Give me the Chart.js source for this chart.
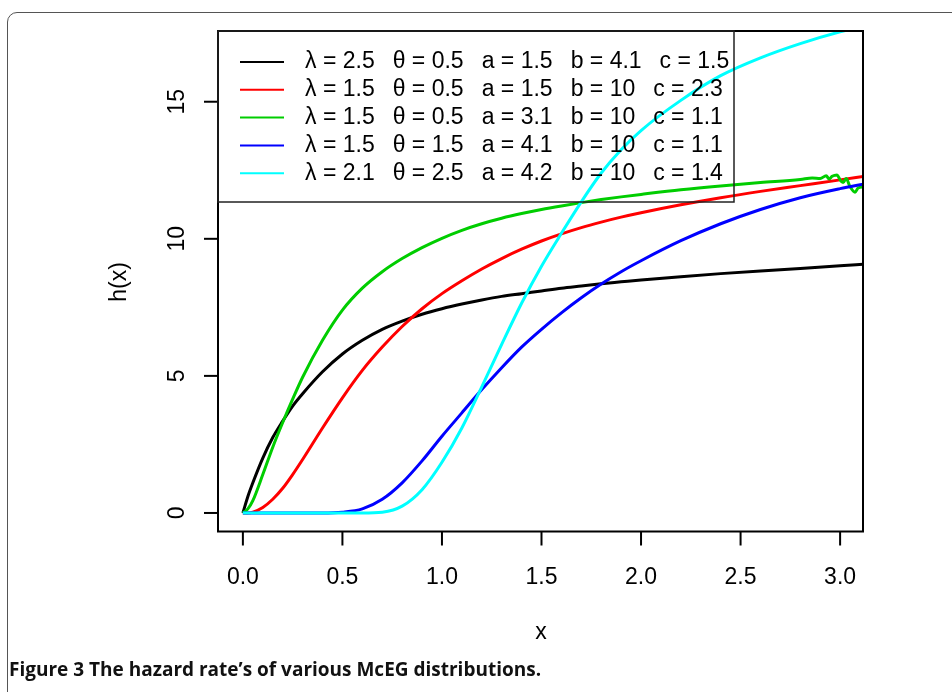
<!DOCTYPE html>
<html>
<head>
<meta charset="utf-8">
<script src="https://cdn.jsdelivr.net/npm/chart.js@4.4.0/dist/chart.umd.min.js"></script>
<style>
    body { margin: 0; background: #fff; overflow: hidden; }
    #wrap { position: relative; width: 952px; height: 692px; overflow: hidden; }
    #frame {
        position: absolute; left: 7px; top: 12px; width: 980px; height: 720px;
        border: 1px solid #555; border-radius: 10px; box-sizing: border-box;
    }
    #grafico { position: absolute; left: 0; top: 0; }
    #legenda-figura {
        position: absolute; left: 9px; top: 656px;
        font-family: 'Liberation Sans Narrow', 'Open Sans', sans-serif;
        font-weight: bold; font-size: 19px; color: #111;
    }
</style>
</head>
<body>
<div id="wrap">
    <div id="frame"></div>
    <canvas id="grafico" width="952" height="692"></canvas>
    <div id="legenda-figura">Figure 3 The hazard rate’s of various McEG distributions.</div>
</div>
<script>
// valores
const xs = [0, 0.025, 0.05, 0.1, 0.15, 0.2, 0.25, 0.3, 0.4, 0.5, 0.6, 0.7, 0.8, 0.9, 1.0,
    1.1, 1.2, 1.3, 1.4, 1.5, 1.6, 1.7, 1.8, 1.9, 2.0, 2.2, 2.4, 2.6, 2.8, 3.0, 3.12];

const hPreto = [0, 0.6, 1.1, 2.0, 2.75, 3.35, 3.9, 4.35, 5.15, 5.8, 6.3, 6.7, 7.0, 7.25, 7.45,
    7.62, 7.77, 7.9, 8.0, 8.1, 8.2, 8.28, 8.36, 8.43, 8.5, 8.62, 8.73, 8.83, 8.92, 9.02, 9.07];

const hVermelho = [0, 0, 0.03, 0.2, 0.5, 0.9, 1.4, 1.95, 3.1, 4.2, 5.2, 6.05, 6.8, 7.45, 8.0,
    8.47, 8.9, 9.28, 9.62, 9.92, 10.18, 10.41, 10.61, 10.79, 10.95, 11.24, 11.5, 11.73, 11.94, 12.15, 12.28];

const hAzul = [0, 0, 0, 0, 0, 0, 0, 0, 0, 0.03, 0.15, 0.5, 1.1, 1.9, 2.8,
    3.65, 4.5, 5.3, 6.05, 6.7, 7.3, 7.85, 8.35, 8.8, 9.2, 9.93, 10.55, 11.07, 11.5, 11.83, 12.0];

const hCiano = [0, 0, 0, 0, 0, 0, 0, 0, 0, 0, 0, 0.03, 0.25, 0.85, 1.85,
    3.1, 4.6, 6.15, 7.65, 9.0, 10.2, 11.35, 12.4, 13.25, 13.95, 15.05, 15.95, 16.6, 17.12, 17.55, 17.75];

// a curva verde tem um trecho ruidoso no final
const xsVerde = [0, 0.025, 0.05, 0.1, 0.15, 0.2, 0.25, 0.3, 0.4, 0.5, 0.6, 0.7, 0.8, 0.9, 1.0,
    1.1, 1.2, 1.3, 1.4, 1.5, 1.6, 1.7, 1.8, 1.9, 2.0, 2.2, 2.4, 2.6, 2.8,
    2.86, 2.9, 2.93, 2.945, 2.96, 2.985, 3.0, 3.015, 3.03, 3.05, 3.075, 3.09, 3.12];
const hVerde = [0, 0.15, 0.45, 1.4, 2.4, 3.3, 4.15, 4.95, 6.3, 7.4, 8.2, 8.8, 9.28, 9.68, 10.02,
    10.31, 10.55, 10.75, 10.92, 11.07, 11.2, 11.32, 11.43, 11.53, 11.62, 11.79, 11.93, 12.05, 12.16,
    12.22, 12.2, 12.3, 12.18, 12.28, 12.33, 12.15, 12.05, 12.2, 11.9, 11.7, 11.85, 11.9];

// parametros da legenda
const lambdas = ['2.5', '1.5', '1.5', '1.5', '2.1'];
const thetas = ['0.5', '0.5', '0.5', '1.5', '2.5'];
const valoresA = ['1.5', '1.5', '3.1', '4.1', '4.2'];
const valoresB = ['4.1', '10', '10', '10', '10'];
const valoresC = ['1.5', '2.3', '1.1', '1.1', '1.4'];
const cores = ['#000000', '#FF0000', '#00CD00', '#0000FF', '#00FFFF'];

const ticksX = [0, 0.5, 1.0, 1.5, 2.0, 2.5, 3.0];
const ticksY = [0, 5, 10, 15];

function pontos(xv, yv) {
    return xv.map(function (x, i) { return { x: x, y: yv[i] }; });
}

const series = [pontos(xs, hPreto), pontos(xs, hVermelho), pontos(xsVerde, hVerde),
    pontos(xs, hAzul), pontos(xs, hCiano)];

const fonte = '23px "Liberation Sans", Arial, sans-serif';

// eixos, caixa e legenda no estilo do R
const estiloR = {
    id: 'estiloR',
    afterDraw: function (chart) {
        const ctx = chart.ctx;
        const area = chart.chartArea;
        const sx = chart.scales.x;
        const sy = chart.scales.y;
        ctx.save();
        ctx.strokeStyle = '#000';
        ctx.fillStyle = '#000';
        ctx.lineWidth = 2;
        ctx.strokeRect(area.left, area.top, area.right - area.left, area.bottom - area.top);

        ctx.font = fonte;
        ctx.textAlign = 'center';
        ctx.textBaseline = 'middle';
        for (var i = 0; i < ticksX.length; i++) {
            var px = sx.getPixelForValue(ticksX[i]);
            ctx.beginPath();
            ctx.moveTo(px, area.bottom);
            ctx.lineTo(px, area.bottom + 14);
            ctx.stroke();
            ctx.fillText(ticksX[i].toFixed(1), px, 578);
        }
        for (var i = 0; i < ticksY.length; i++) {
            var py = sy.getPixelForValue(ticksY[i]);
            ctx.beginPath();
            ctx.moveTo(area.left, py);
            ctx.lineTo(area.left - 14, py);
            ctx.stroke();
            ctx.save();
            ctx.translate(178, py);
            ctx.rotate(-Math.PI / 2);
            ctx.fillText(String(ticksY[i]), 0, 0);
            ctx.restore();
        }
        ctx.fillText('x', 541, 633);
        ctx.save();
        ctx.translate(120, 282);
        ctx.rotate(-Math.PI / 2);
        ctx.fillText('h(x)', 0, 0);
        ctx.restore();

        // legenda
        ctx.lineWidth = 1.5;
        ctx.strokeStyle = '#222';
        ctx.strokeRect(area.left, area.top, 734 - area.left, 202 - area.top);
        ctx.textAlign = 'left';
        var espaco = 18;
        for (var i = 0; i < cores.length; i++) {
            var y = 62 + i * 27.8;
            ctx.strokeStyle = cores[i];
            ctx.lineWidth = 2;
            ctx.beginPath();
            ctx.moveTo(240, y);
            ctx.lineTo(284, y);
            ctx.stroke();
            var partes = ['λ = ' + lambdas[i], 'θ = ' + thetas[i], 'a = ' + valoresA[i],
                'b = ' + valoresB[i], 'c = ' + valoresC[i]];
            var tx = 305;
            for (var j = 0; j < partes.length; j++) {
                ctx.fillText(partes[j], tx, y);
                tx += ctx.measureText(partes[j]).width + espaco;
            }
        }
        ctx.restore();
    }
};

const nomes = ['preto', 'vermelho', 'verde', 'azul', 'ciano'];
const datasets = [];
for (var i = 0; i < series.length; i++) {
    datasets.push({
        label: nomes[i],
        data: series[i],
        borderColor: cores[i],
        borderWidth: 3,
        pointRadius: 0,
        fill: false,
        cubicInterpolationMode: 'monotone',
        order: series.length - i
    });
}

new Chart(document.getElementById('grafico'), {
    type: 'line',
    data: { datasets: datasets },
    options: {
        responsive: false,
        animation: false,
        layout: { padding: { left: 218, top: 31, right: 89, bottom: 160.5 } },
        scales: {
            x: { type: 'linear', min: -0.125, max: 3.115, display: false },
            y: { type: 'linear', min: -0.676, max: 17.58, display: false }
        },
        plugins: {
            legend: { display: false },
            tooltip: { enabled: false }
        }
    },
    plugins: [estiloR]
});
</script>
</body>
</html>
